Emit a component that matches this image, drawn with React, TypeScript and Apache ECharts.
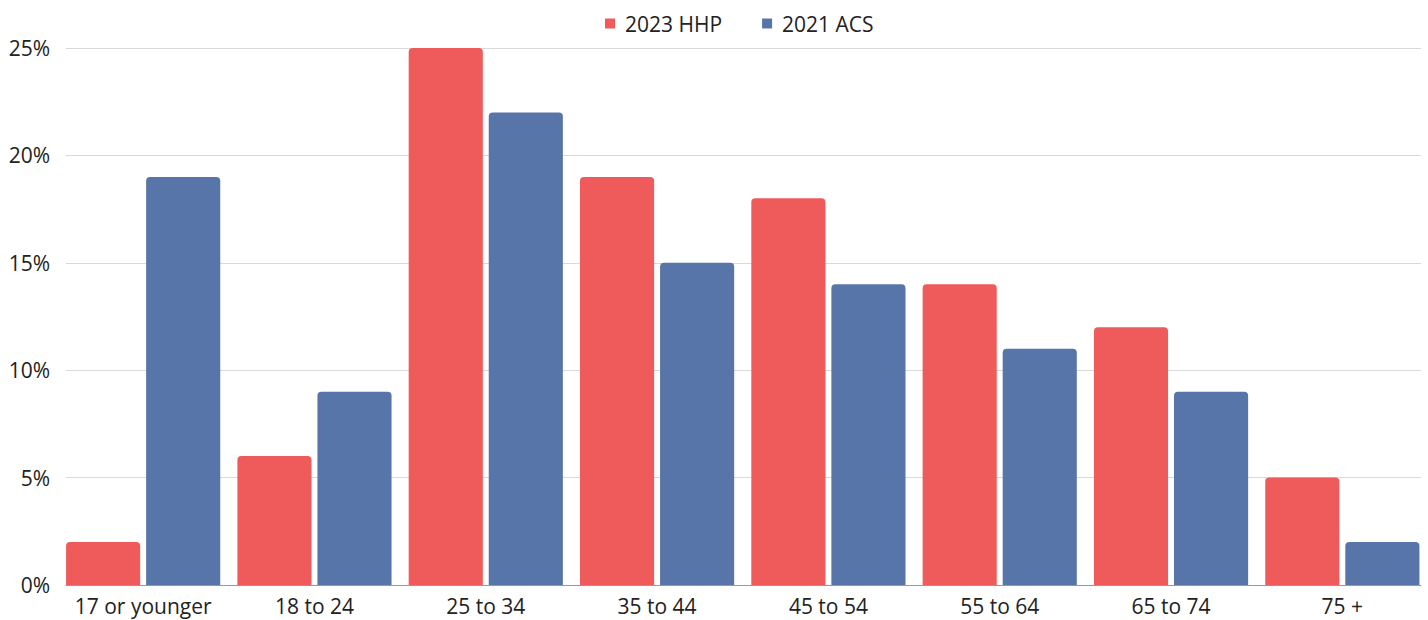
import React, { useEffect, useRef } from "react";
import * as echarts from "echarts";

const categories = ["17 or younger", "18 to 24", "25 to 34", "35 to 44", "45 to 54", "55 to 64", "65 to 74", "75 +"];
const hhp2023 = [2, 6, 25, 19, 18, 14, 12, 5];
const acs2021 = [19, 9, 22, 15, 14, 11, 9, 2];
const yTicks = [0, 5, 10, 15, 20, 25];

const RED = "#EF5B5B";
const BLUE = "#5875A9";
const FONT = "'Open Sans', sans-serif";
const FS = 21;

export default function App() {
  const ref = useRef<HTMLDivElement>(null);
  useEffect(() => {
    document.body.style.margin = "0";
    if (!ref.current) return;
    const chart = echarts.init(ref.current, undefined, { renderer: "svg" });
    chart.setOption({
      animation: false,
      textStyle: { fontFamily: FONT },
      legend: {
        top: 8,
        left: 600,
        icon: "rect",
        itemWidth: 10,
        itemHeight: 10,
        itemGap: 40,
        textStyle: { fontSize: FS, color: "#222", fontFamily: FONT, padding: [0, 0, 0, 5] },
        data: ["2023 HHP", "2021 ACS"],
      },
      grid: [
        { left: 66, right: 7, top: 48, bottom: 35 },
        { left: 57.5, right: -1.5, top: 48, bottom: 35 },
      ],
      xAxis: [
        {
          gridIndex: 0,
          type: "category",
          data: categories,
          axisLine: { show: true, lineStyle: { color: "#999", width: 1 } },
          axisTick: { show: false },
          axisLabel: { show: false },
        },
        {
          gridIndex: 1,
          type: "category",
          data: categories,
          axisLine: { show: false },
          axisTick: { show: false },
          axisLabel: { interval: 0, fontSize: FS, color: "#222", margin: 10, fontFamily: FONT },
        },
      ],
      yAxis: [
        {
          gridIndex: 0,
          type: "value",
          min: yTicks[0],
          max: yTicks[yTicks.length - 1],
          interval: 5,
          axisLine: { show: false },
          axisTick: { show: false },
          axisLabel: { fontSize: FS, color: "#222", margin: 16, formatter: "{value}%", fontFamily: FONT },
          splitLine: { lineStyle: { color: "#d9d9d9" } },
        },
        {
          gridIndex: 1,
          type: "value",
          min: yTicks[0],
          max: yTicks[yTicks.length - 1],
          interval: 5,
          show: false,
          splitLine: { show: false },
        },
      ],
      series: [
        {
          name: "2023 HHP",
          type: "bar",
          xAxisIndex: 1,
          yAxisIndex: 1,
          data: hhp2023,
          barGap: "8%",
          barCategoryGap: "10%",
          itemStyle: { color: RED, borderRadius: [4, 4, 0, 0] },
        },
        {
          name: "2021 ACS",
          type: "bar",
          xAxisIndex: 1,
          yAxisIndex: 1,
          data: acs2021,
          barGap: "8%",
          barCategoryGap: "10%",
          itemStyle: { color: BLUE, borderRadius: [4, 4, 0, 0] },
        },
      ],
    });
    return () => chart.dispose();
  }, []);
  return <div ref={ref} style={{ width: 1428, height: 620 }} />;
}
